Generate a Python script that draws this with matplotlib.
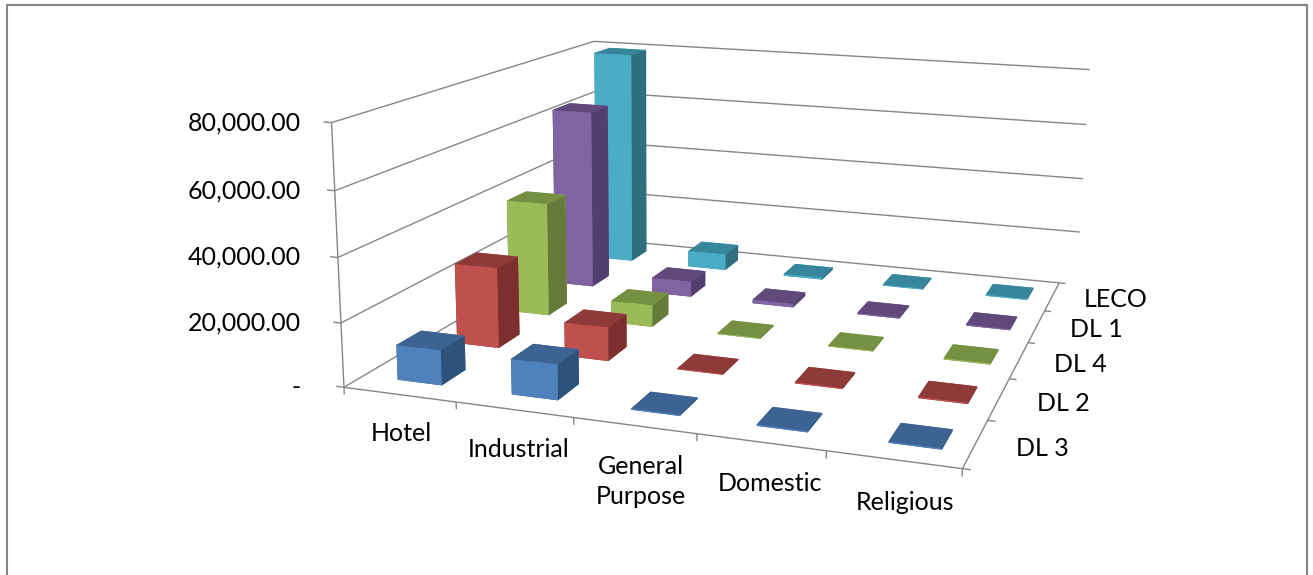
import matplotlib
matplotlib.use("Agg")
import matplotlib.pyplot as plt
from matplotlib.patches import Rectangle
from mpl_toolkits.mplot3d import proj3d

categories = ["Hotel", "Industrial", "General\nPurpose", "Domestic", "Religious"]
series_names = ["DL 3", "DL 2", "DL 4", "DL 1", "LECO"]

dl3 = [11000, 11000, 400, 400, 400]
dl2 = [26500, 11000, 300, 400, 400]
dl4 = [39000, 7500, 300, 300, 400]
dl1 = [64000, 5500, 1300, 400, 400]
leco = [79500, 6000, 700, 400, 400]
values = [dl3, dl2, dl4, dl1, leco]

value_ticks = [0, 20000, 40000, 60000, 80000]

# top, front, side colours per series
front_colors = ["#4f81bd", "#c0504d", "#9bbb59", "#8064a2", "#4bacc6"]
top_colors = ["#3c6392", "#8e3a38", "#769042", "#604a7b", "#38869c"]
side_colors = ["#2f527a", "#7c2f2d", "#667a3b", "#533f6f", "#306f80"]

line_color = "#868686"
text_color = "#000000"

plt.rcParams["font.family"] = ["Lato", "DejaVu Sans"]

W, H = 1313, 575
fig = plt.figure(figsize=(W / 100, H / 100), dpi=100)

# square 3d axes, bigger than the figure so that nothing gets clipped
side = 1300
cx, cy = 742, 213  # where the middle of the box lands, from top left
ax = fig.add_axes([(cx - 0.5135 * side) / W, (H - cy - 0.5135 * side) / H, side / W, side / H],
                  projection="3d")
ax.computed_zorder = False
ax.set_axis_off()
ax.patch.set_visible(False)
ax.set_proj_type("persp", focal_length=0.235)
ax.view_init(elev=13.5, azim=-72.0, roll=-0.7)
aspect = (3.045, 3.12, 1.31)
ax.set_box_aspect(aspect, zoom=0.683 * sum(a * a for a in aspect) ** 0.5 / 4.92)

n_cat = len(categories)
n_ser = len(series_names)
wall_end = n_cat + 0.17
bar_stretch = 1.02  # bars sit a bit wider than the floor ticks


def line3(xs, ys, zs):
    ax.plot(xs, ys, zs, color=line_color, lw=1.0, zorder=1, solid_capstyle="butt")


# walls
for v in value_ticks:
    line3([0, 0], [0, n_ser], [v, v])
    line3([0, wall_end if v > 0 else n_cat], [n_ser, n_ser], [v, v])
    line3([-0.07, 0], [0, 0], [v, v])
line3([0, 0], [0, 0], [0, value_ticks[-1]])

# floor edges and ticks
line3([0, n_cat], [0, 0], [0, 0])
line3([n_cat, n_cat], [0, n_ser], [0, 0])
for i in range(n_cat + 1):
    line3([i, i], [0, 0], [0, -2200])
for i in range(n_ser + 1):
    line3([n_cat, n_cat + 0.06], [i, i], [0, 0])

# bars, back row first
bar_w = 0.4
order = 10
for s in reversed(range(n_ser)):
    for c in range(n_cat):
        colors = [top_colors[s], top_colors[s], front_colors[s], front_colors[s],
                  side_colors[s], side_colors[s]]
        ax.bar3d((c + 0.5) * bar_stretch - bar_w / 2, s + 0.5 - bar_w / 2, 0, bar_w, bar_w,
                 values[s][c], color=colors, shade=False, edgecolor=None, linewidth=0,
                 zorder=order)
        order += 1

ax.set_xlim(0, n_cat, view_margin=0)
ax.set_ylim(0, n_ser, view_margin=0)
ax.set_zlim(0, value_ticks[-1], view_margin=0)


def project(x, y, z):
    px, py, _ = proj3d.proj_transform(x, y, z, ax.get_proj())
    return px, py


def label2(px, py, s, **kw):
    ax.text2D(px, py, s, transform=ax.transData, color=text_color, fontsize=18, **kw)


# value labels share one right edge, taken from the top tick
column_x = project(-0.27, 0, value_ticks[-1])[0]
for v in value_ticks:
    label2(column_x, project(0, 0, v)[1], "-" if v == 0 else f"{v:,.2f}", ha="right", va="center")
for i, name in enumerate(categories):
    label2(*project((i + 0.5) * bar_stretch, 0, -8500), name, ha="center", va="top", linespacing=1.4)
for i, name in enumerate(series_names):
    label2(*project(n_cat + 0.3, i + 0.5, 0), name, ha="left", va="center")

# chart border, runs off the bottom of the picture
fig.add_artist(Rectangle((7 / W, -0.05), 1300 / W, 1.05 - 5 / H, transform=fig.transFigure,
                         fill=False, edgecolor=line_color, lw=1.5))

fig.savefig("out.png", dpi=100)
